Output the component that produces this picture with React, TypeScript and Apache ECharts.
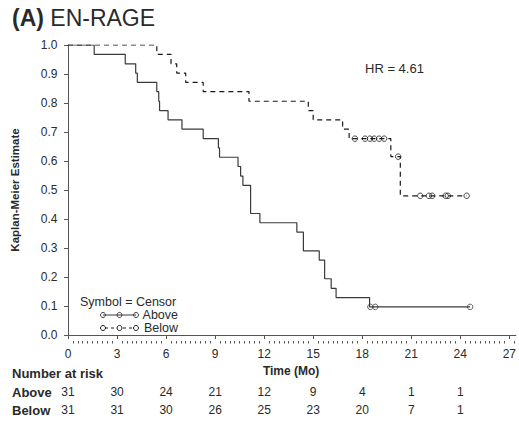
import React, { useEffect, useRef } from "react";
import * as echarts from "echarts";

const FONT = "'Liberation Sans', Arial, Helvetica, sans-serif";
const TEXT = "#2a2a2a";
const AXIS = "#555555";

// Kaplan-Meier steps
const aboveTimes = [0, 1.6, 3.5, 4.14, 4.24, 5.43, 5.55, 5.6, 6.12, 6.97, 8.27, 9.2, 9.27, 10.4, 10.56, 10.7, 11.17, 11.74, 14.0, 14.4, 15.37, 15.7, 16.1, 16.4, 18.45, 24.6];
const aboveSurv = [1, 0.968, 0.935, 0.903, 0.871, 0.839, 0.806, 0.774, 0.742, 0.71, 0.677, 0.645, 0.613, 0.581, 0.548, 0.516, 0.419, 0.387, 0.355, 0.29, 0.258, 0.194, 0.161, 0.129, 0.097, 0.097];
const aboveCensorTimes = [18.5, 18.8, 24.6];
const aboveCensorSurv = [0.097, 0.097, 0.097];

const belowTimes = [0, 5.43, 6.3, 6.65, 7.2, 8.27, 11.07, 14.7, 15.0, 16.8, 17.2, 19.75, 20.33, 24.39];
const belowSurv = [1, 0.968, 0.935, 0.903, 0.871, 0.839, 0.806, 0.774, 0.742, 0.71, 0.677, 0.615, 0.48, 0.48];
const belowCensorTimes = [17.55, 18.17, 18.47, 18.73, 19.03, 19.34, 20.2, 21.55, 22.08, 22.28, 23.1, 23.24, 24.39];
const belowCensorSurv = [0.677, 0.677, 0.677, 0.677, 0.677, 0.677, 0.615, 0.48, 0.48, 0.48, 0.48, 0.48, 0.48];

const xTicks = [0, 3, 6, 9, 12, 15, 18, 21, 24, 27];
const riskTimes = [0, 3, 6, 9, 12, 15, 18, 21, 24];
const riskAbove = [31, 30, 24, 21, 12, 9, 4, 1, 1];
const riskBelow = [31, 31, 30, 26, 25, 23, 20, 7, 1];
const hrText = "HR = 4.61";

const zip = (a: number[], b: number[]) => a.map((v, i) => [v, b[i]]);

export default function App() {
  const ref = useRef<HTMLDivElement>(null);
  useEffect(() => {
    if (!ref.current) return;
    const chart = echarts.init(ref.current, undefined, { renderer: "svg" });
    const minor: number[] = [];
    for (let i = 0; i <= 91; i++) {
      const v = Math.round(i * 0.3 * 100) / 100;
      if (!xTicks.includes(v)) minor.push(v);
    }
    const xCommon = {
      type: "value" as const,
      min: -0.1,
      max: 27.4,
      position: "bottom" as const,
      offset: 6,
      splitLine: { show: false },
    };
    chart.setOption({
      animation: false,
      backgroundColor: "#ffffff",
      grid: { left: 66.4, top: 45, width: 452.1, height: 290, containLabel: false },
      xAxis: [
        {
          ...xCommon,
          name: "Time (Mo)",
          nameLocation: "middle",
          nameGap: 15,
          nameTextStyle: { fontFamily: FONT, fontSize: 12, fontWeight: "bold", color: TEXT },
          axisLine: { show: true, lineStyle: { color: AXIS, width: 1 } },
          axisTick: { show: true, length: 4, customValues: xTicks, lineStyle: { color: AXIS } },
          axisLabel: { customValues: xTicks, margin: 7, fontFamily: FONT, fontSize: 12, color: TEXT },
        },
        {
          ...xCommon,
          axisLine: { show: false },
          axisTick: { show: true, length: 2.5, customValues: minor, lineStyle: { color: AXIS } },
          axisLabel: { show: false },
        },
      ],
      yAxis: {
        type: "value",
        min: 0,
        max: 1,
        interval: 0.1,
        offset: 3,
        name: "Kaplan-Meier Estimate",
        nameLocation: "middle",
        nameGap: 42,
        nameTextStyle: { fontFamily: FONT, fontSize: 11.5, fontWeight: "bold", color: TEXT },
        axisLine: { show: true, lineStyle: { color: AXIS, width: 1 } },
        axisTick: { show: true, length: 4, lineStyle: { color: AXIS } },
        axisLabel: { margin: 6, fontFamily: FONT, fontSize: 12, color: TEXT, formatter: (v: number) => v.toFixed(1) },
        splitLine: { show: false },
      },
      series: [
        {
          type: "line",
          step: "end",
          data: zip(aboveTimes, aboveSurv),
          showSymbol: false,
          lineStyle: { color: "#3a3a3a", width: 1.2, type: "solid" },
        },
        {
          type: "line",
          step: "end",
          data: zip(belowTimes, belowSurv),
          showSymbol: false,
          lineStyle: { color: "#1a1a1a", width: 1.2, type: [5, 4] },
        },
        {
          type: "scatter",
          data: zip(aboveCensorTimes, aboveCensorSurv),
          symbol: "circle",
          symbolSize: 5.5,
          itemStyle: { color: "none", borderColor: "#3a3a3a", borderWidth: 1 },
        },
        {
          type: "scatter",
          data: zip(belowCensorTimes, belowCensorSurv),
          symbol: "circle",
          symbolSize: 5.5,
          itemStyle: { color: "none", borderColor: "#1a1a1a", borderWidth: 1 },
        },
      ],
    });

    const txt = (x: number, y: number, text: string, opts: any = {}) => ({
      type: "text",
      x,
      y,
      style: {
        text,
        fontFamily: FONT,
        fontSize: 12,
        lineHeight: 12,
        fill: TEXT,
        textVerticalAlign: "middle",
        ...opts,
      },
    });

    const g: any[] = [];
    g.push({
      type: "text",
      x: 12,
      y: 18,
      style: {
        text: "{b|(A)} EN-RAGE",
        fontFamily: FONT,
        fontSize: 23,
        fill: TEXT,
        textVerticalAlign: "middle",
        rich: { b: { fontFamily: FONT, fontSize: 23, fontWeight: "bold", fill: TEXT } },
      },
    });
    g.push(txt(365, 68, hrText, { fontSize: 13 }));
    // legend
    g.push(txt(80, 302, "Symbol = Censor", { fontSize: 12.5 }));
    g.push({ type: "line", shape: { x1: 103, y1: 315, x2: 136, y2: 315 }, style: { stroke: "#3a3a3a", lineWidth: 1 } });
    g.push({ type: "line", shape: { x1: 103, y1: 328, x2: 136, y2: 328 }, style: { stroke: "#1a1a1a", lineWidth: 1, lineDash: [3, 3], lineDashOffset: -2 } });
    [103, 119.5, 136].forEach((cx) => {
      g.push({ type: "circle", shape: { cx, cy: 315, r: 2.5 }, style: { fill: "none", stroke: "#3a3a3a", lineWidth: 1 }, z: 10 });
      g.push({ type: "circle", shape: { cx, cy: 328, r: 2.5 }, style: { fill: "#fff", stroke: "#1a1a1a", lineWidth: 1 }, z: 10 });
    });
    g.push(txt(178, 315, "Above", { fontSize: 12.5, textAlign: "right" }));
    g.push(txt(178, 328, "Below", { fontSize: 12.5, textAlign: "right" }));
    // number at risk
    g.push(txt(12, 373, "Number at risk", { fontSize: 13, fontWeight: "bold" }));
    g.push(txt(12, 392, "Above", { fontSize: 13, fontWeight: "bold" }));
    g.push(txt(12, 410, "Below", { fontSize: 13, fontWeight: "bold" }));
    riskTimes.forEach((t, i) => {
      const px = chart.convertToPixel({ xAxisIndex: 0 }, t) as number;
      g.push(txt(px, 392, String(riskAbove[i]), { textAlign: "center" }));
      g.push(txt(px, 410, String(riskBelow[i]), { textAlign: "center" }));
    });
    chart.setOption({ graphic: g });

    return () => chart.dispose();
  }, []);
  return (
    <div
      ref={ref}
      style={{ position: "fixed", left: 0, top: 0, width: 519, height: 422, background: "#fff" }}
    />
  );
}
